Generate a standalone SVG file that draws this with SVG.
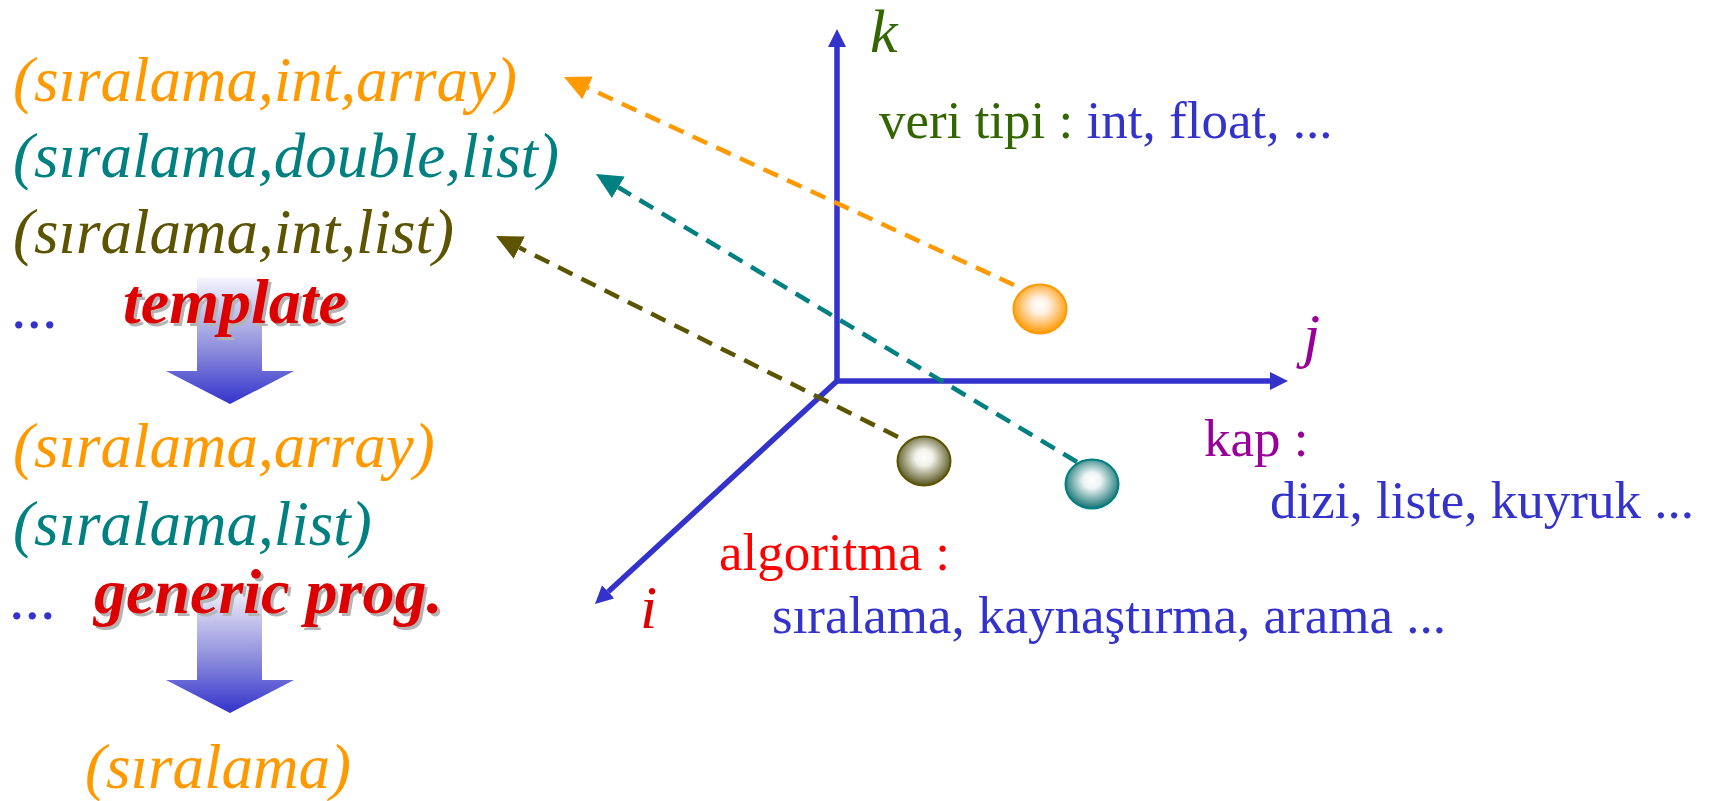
<svg xmlns="http://www.w3.org/2000/svg" width="1709" height="801" viewBox="0 0 1709 801">
<defs>
<style>
.it{font-family:"Liberation Serif","Times New Roman",serif;font-style:italic;font-size:63px}
.bi{font-family:"Liberation Serif","Times New Roman",serif;font-style:italic;font-weight:bold;font-size:64px}
.rg{font-family:"Liberation Serif","Times New Roman",serif;font-size:53px}
.ax{font-family:"Liberation Serif","Times New Roman",serif;font-style:italic;font-size:62px}
.axis{stroke:#3333cc;stroke-width:5.5;fill:none}
.dash{stroke-width:4.5;fill:none;stroke-dasharray:16 10}
.orange{fill:#ff9900}.teal{fill:#008080}.olive{fill:#5c5400}.blue{fill:#3333cc}
.red{fill:#ff0000}.dred{fill:#dd0000}.green{fill:#336600}.purple{fill:#990099}
</style>
<marker id="mBlue" viewBox="0 -9 18 18" markerWidth="18" markerHeight="18" refX="0" refY="0" orient="auto" markerUnits="userSpaceOnUse"><path d="M0,-9 L18,0 L0,9 z" fill="#3333cc"/></marker>
<marker id="mOrange" viewBox="0 -13 26 26" markerWidth="26" markerHeight="26" refX="0" refY="0" orient="auto" markerUnits="userSpaceOnUse"><path d="M0,-12.5 L26,0 L0,12.5 z" fill="#ff9900"/></marker>
<marker id="mTeal" viewBox="0 -13 26 26" markerWidth="26" markerHeight="26" refX="0" refY="0" orient="auto" markerUnits="userSpaceOnUse"><path d="M0,-12.5 L26,0 L0,12.5 z" fill="#008080"/></marker>
<marker id="mOlive" viewBox="0 -13 26 26" markerWidth="26" markerHeight="26" refX="0" refY="0" orient="auto" markerUnits="userSpaceOnUse"><path d="M0,-12.5 L26,0 L0,12.5 z" fill="#5c5400"/></marker>
<linearGradient id="gArrow" x1="0" y1="0" x2="0" y2="1">
<stop offset="0" stop-color="#f4f4fc"/>
<stop offset="0.55" stop-color="#9090dc"/>
<stop offset="1" stop-color="#3333cc"/>
</linearGradient>
<radialGradient id="gOrange" cx="0.5" cy="0.45" r="0.55" fx="0.5" fy="0.42">
<stop offset="0" stop-color="#ffffff"/>
<stop offset="0.3" stop-color="#fff0e4"/>
<stop offset="1" stop-color="#ff9900"/>
</radialGradient>
<radialGradient id="gTeal" cx="0.5" cy="0.45" r="0.55" fx="0.5" fy="0.42">
<stop offset="0" stop-color="#ffffff"/>
<stop offset="0.3" stop-color="#eef4f4"/>
<stop offset="1" stop-color="#137373"/>
</radialGradient>
<radialGradient id="gOlive" cx="0.5" cy="0.45" r="0.55" fx="0.5" fy="0.42">
<stop offset="0" stop-color="#ffffff"/>
<stop offset="0.3" stop-color="#f2f2ec"/>
<stop offset="1" stop-color="#55531a"/>
</radialGradient>
</defs>
<rect width="1709" height="801" fill="#ffffff"/>

<g id="left-texts">
<text id="t1" class="it orange" x="13" y="101">(sıralama,int,array)</text>
<text id="t2" class="it teal" x="13" y="177">(sıralama,double,list)</text>
<text id="t3" class="it olive" x="13" y="253">(sıralama,int,list)</text>
<text id="dots1" class="rg blue" x="11" y="328" style="font-size:62px">...</text>
<text id="t4" class="it orange" x="13" y="467">(sıralama,array)</text>
<text id="t5" class="it teal" x="13" y="545">(sıralama,list)</text>
<text id="dots2" class="rg blue" x="9" y="619" style="font-size:62px">...</text>
<text id="t6" class="it orange" x="85" y="788">(sıralama)</text>
</g>

<g id="arrow-template">
<path d="M197,278 H262 V371 H294 L230,404 L166,371 H197 Z" fill="url(#gArrow)"/>
<text class="bi" x="126" y="326" fill="#b4b4b4">template</text>
<text class="bi dred" x="123" y="323">template</text>
</g>

<g id="arrow-generic">
<path d="M197,587 H262 V680 H294 L230,713 L166,680 H197 Z" fill="url(#gArrow)"/>
<text class="bi" x="97" y="616" fill="#b4b4b4">generic prog.</text>
<text class="bi dred" x="94" y="613">generic prog.</text>
</g>

<g id="axes">
<path class="axis" d="M837,381 L837,47" marker-end="url(#mBlue)"/>
<path class="axis" d="M837,381 L1270,381" marker-end="url(#mBlue)"/>
<path class="axis" d="M837,381 L608.2,591.8" marker-end="url(#mBlue)"/>
<text id="k" class="ax green" x="870" y="52">k</text>
<text id="j" class="ax purple" x="1303" y="356">j</text>
<text id="i" class="ax dred" x="640" y="628">i</text>
</g>

<g id="connectors">
<path class="dash" stroke="#ff9900" d="M1014,285 L587.6,87.9" marker-end="url(#mOrange)"/>
<path class="dash" stroke="#008080" d="M1077,462 L618.3,187.3" marker-end="url(#mTeal)"/>
<path class="dash" stroke="#5c5400" d="M898,437 L519.3,247.6" marker-end="url(#mOlive)"/>
</g>

<g id="ball-orange"><ellipse cx="1040" cy="309" rx="26.5" ry="24.5" fill="url(#gOrange)" stroke="#ff9900" stroke-width="2"/></g>
<g id="ball-teal"><ellipse cx="1092" cy="484" rx="26.5" ry="24.5" fill="url(#gTeal)" stroke="#008080" stroke-width="2"/></g>
<g id="ball-olive"><ellipse cx="924" cy="461" rx="26.5" ry="24.5" fill="url(#gOlive)" stroke="#5c5400" stroke-width="2"/></g>

<g id="label-veri">
<text class="rg" x="879" y="138"><tspan class="green">veri tipi : </tspan><tspan class="blue">int, float, ...</tspan></text>
</g>
<g id="label-kap">
<text class="rg purple" x="1204" y="456">kap :</text>
<text class="rg blue" x="1270" y="518">dizi, liste, kuyruk ...</text>
</g>
<g id="label-algoritma">
<text class="rg red" x="719" y="570">algoritma :</text>
<text class="rg blue" x="772" y="633">sıralama, kaynaştırma, arama ...</text>
</g>
</svg>
